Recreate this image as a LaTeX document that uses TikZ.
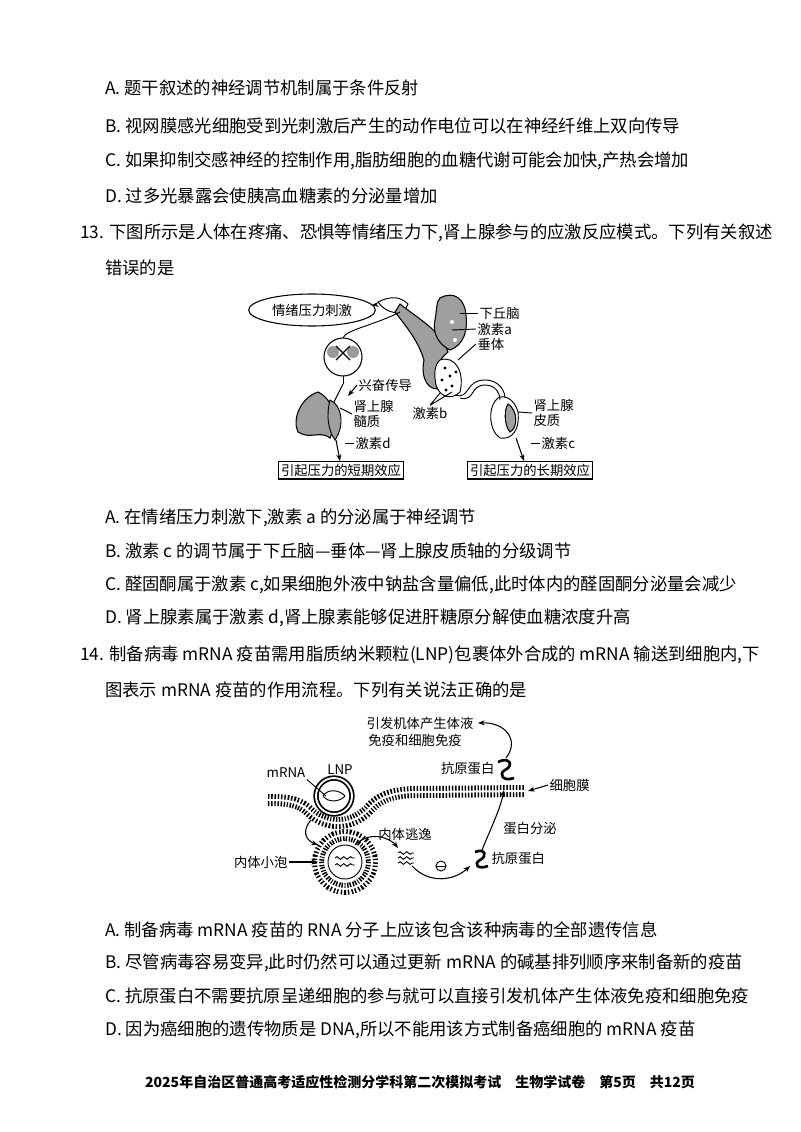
\documentclass[tikz,border=0pt]{standalone}
\usepackage{fontspec}
\setmainfont{Noto Sans CJK SC}
\usetikzlibrary{arrows.meta,shapes.geometric,decorations.pathmorphing}
\tikzset{
 txt/.style={anchor=west,inner sep=0pt,font=\fontsize{13}{15}\selectfont},
 lab/.style={inner sep=1pt,font=\fontsize{10}{11}\selectfont},
 effbox/.style={draw,line width=0.9pt,inner sep=2pt,font=\fontsize{10}{11}\selectfont},
 arr/.style={-{Stealth[length=5pt]},line width=0.8pt},
 ln/.style={line width=0.7pt},
 memb/.style={line width=9pt,dash pattern=on 1.1pt off 1.3pt},
 gland/.style={fill=gray!75,draw=black,line width=0.8pt}
}
\begin{document}
\begin{tikzpicture}[x=0.75pt,y=-0.75pt]
\useasboundingbox[fill=white] (0,0) rectangle (800,1132);
% text block 1
\node[txt] (l1) at (105,88) {A. 题干叙述的神经调节机制属于条件反射};
\node[txt] (l2) at (105,126) {B. 视网膜感光细胞受到光刺激后产生的动作电位可以在神经纤维上双向传导};
\node[txt] (l3) at (105,161) {C. 如果抑制交感神经的控制作用,脂肪细胞的血糖代谢可能会加快,产热会增加};
\node[txt] (l4) at (105,196) {D. 过多光暴露会使胰高血糖素的分泌量增加};
\node[txt] (q13) at (80,233) {13. 下图所示是人体在疼痛、恐惧等情绪压力下,肾上腺参与的应激反应模式。下列有关叙述};
\node[txt] (q13b) at (105,268) {错误的是};
% diagram 1
\node[draw,ellipse,line width=0.8pt,minimum width=95,minimum height=24,lab] (stim) at (312,310) {情绪压力刺激};
\draw[ln] (378,302) .. controls (390,296) and (400,296) .. (408,304) -- (404,312) .. controls (395,314) and (385,312) .. (378,302) -- cycle;
\coordinate (brainin) at (372,305);
\draw[arr] (stim) -- (brainin);
% brain
\path[gland] (400,304) .. controls (420,320) and (440,330) .. (448,352) .. controls (438,360) and (432,372) .. (440,388) .. controls (430,392) and (420,380) .. (424,360) .. controls (418,340) and (405,325) .. (395,312) -- cycle;
\path[gland] (440,298) .. controls (455,290) and (465,300) .. (466,315) .. controls (468,330) and (464,345) .. (450,350) .. controls (440,345) and (432,335) .. (435,320) .. controls (437,310) and (436,302) .. (440,298) -- cycle;
\draw[ln,fill=white] (440,360) .. controls (455,355) and (465,372) .. (460,392) .. controls (452,400) and (440,398) .. (436,385) .. controls (434,375) and (434,365) .. (440,360) -- cycle;
\foreach \p in {(445,368),(450,376),(442,380),(452,386),(446,390),(456,372)} \fill \p circle (1.6);
\fill[white] (452,322) circle (2);
\fill[white] (455,340) circle (2);
% spinal cord
\draw[line width=0.8pt] (343,357) circle (19);
\fill[gray!80] (333,352) circle (6);
\fill[gray!80] (353,352) circle (6);
\draw[line width=1pt] (336,346) -- (350,360) (350,346) -- (336,360);
\draw[ln] (343,376) -- (343,384);
% nerve
\draw[ln] (400,312) .. controls (375,325) and (345,330) .. (343,338);
\draw[ln] (343,384) -- (330,410);
% adrenal medulla
\path[gland] (318,392) .. controls (300,398) and (292,420) .. (298,432) .. controls (310,440) and (320,430) .. (330,438) .. controls (338,420) and (334,400) .. (318,392) -- cycle;
\draw[ln,fill=gray!75] (330,400) .. controls (342,405) and (345,425) .. (335,440) .. controls (328,430) and (326,415) .. (330,400) -- cycle;
% adrenal cortex
\draw[ln,fill=white] (498,398) .. controls (488,405) and (488,430) .. (500,438) .. controls (512,440) and (520,430) .. (518,412) .. controls (515,400) and (505,394) .. (498,398) -- cycle;
\path[gland] (508,404) .. controls (518,410) and (518,428) .. (510,432) .. controls (504,425) and (504,410) .. (508,404) -- cycle;
% blood vessel to cortex
\draw[ln] (455,395) .. controls (470,400) and (465,380) .. (485,380) .. controls (500,380) and (505,392) .. (505,398);
\draw[ln] (460,398) .. controls (475,402) and (470,385) .. (485,385) .. controls (497,385) and (500,395) .. (500,400);
% labels d1
\node[lab,anchor=west] (hyp) at (478,313) {下丘脑};
\node[lab,anchor=west] (ha) at (476,329) {激素a};
\node[lab,anchor=west] (pit) at (476,344) {垂体};
\draw[ln] (hyp.west) -- (460,313);
\draw[ln] (ha.west) -- (452,330);
\draw[ln] (pit.west) -- (458,360);
\node[lab,anchor=west] (xf) at (357,385) {兴奋传导};
\draw[arr] (xf.west) -- (348,396);
\node[lab,anchor=west,align=left] (med) at (352,414) {肾上腺\\髓质};
\draw[ln] (med.west) -- (340,408);
\node[lab] (hb) at (430,413) {激素b};
\draw[ln] (hb.north) -- (440,393) (hb.north) -- (452,392);
\node[lab,anchor=west,align=left] (cor) at (532,413) {肾上腺\\皮质};
\draw[ln] (cor.west) -- (518,412);
\node[lab,anchor=west] (hd) at (354,443) {激素d};
\draw[ln] (hd.west) -- (345,443);
\node[lab,anchor=west] (hc) at (540,443) {激素c};
\draw[ln] (hc.west) -- (531,443);
\node[effbox] (short) at (341,470) {引起压力的短期效应};
\node[effbox] (long) at (530,470) {引起压力的长期效应};
\coordinate (md) at (336,440);
\coordinate (cd) at (516,438);
\draw[arr] (md) -- (340,461);
\draw[arr] (cd) -- (524,461);
% text block 2
\node[txt] (a13) at (105,518) {A. 在情绪压力刺激下,激素 a 的分泌属于神经调节};
\node[txt] (b13) at (105,551) {B. 激素 c 的调节属于下丘脑—垂体—肾上腺皮质轴的分级调节};
\node[txt] (c13) at (105,585) {C. 醛固酮属于激素 c,如果细胞外液中钠盐含量偏低,此时体内的醛固酮分泌量会减少};
\node[txt] (d13) at (105,618) {D. 肾上腺素属于激素 d,肾上腺素能够促进肝糖原分解使血糖浓度升高};
\node[txt] (q14) at (80,655) {14. 制备病毒 mRNA 疫苗需用脂质纳米颗粒(LNP)包裹体外合成的 mRNA 输送到细胞内,下};
\node[txt] (q14b) at (105,690) {图表示 mRNA 疫苗的作用流程。下列有关说法正确的是};
% diagram 2
\draw[memb] (268,800) .. controls (290,800) and (300,802) .. (310,812) .. controls (325,826) and (350,828) .. (368,810) .. controls (380,796) and (395,792) .. (420,792) -- (525,791);
\draw[white,line width=1.5pt] (268,800) .. controls (290,800) and (300,802) .. (310,812) .. controls (325,826) and (350,828) .. (368,810) .. controls (380,796) and (395,792) .. (420,792) -- (525,791);
\draw[line width=4pt] (334,796) circle (18);
\draw[white,line width=1.4pt] (334,796) circle (18);
\draw[ln] (323,796) .. controls (328,788) and (340,790) .. (345,796) .. controls (340,802) and (328,803) .. (323,796);
\node[lab] (mrna) at (286,773) {mRNA};
\node[lab] (lnp) at (340,770) {LNP};
\draw[ln] (mrna.south east) -- (326,796);
\draw[memb] (345,862) circle (27);
\draw[white,line width=1.5pt] (345,862) circle (27);
\draw[ln] (345,862) circle (17);
\draw[ln,decorate,decoration={snake,amplitude=1pt,segment length=5pt}] (335,858) -- (355,858);
\draw[ln,decorate,decoration={snake,amplitude=1pt,segment length=5pt}] (335,865) -- (355,865);
\node[lab,anchor=east] (ves) at (289,862) {内体小泡};
\draw[arr] (ves.east) -- (318,862);
\draw[arr] (311,820) .. controls (302,830) and (305,840) .. (318,845);
\node[lab] (esc) at (405,834) {内体逃逸};
\draw[arr] (355,845) .. controls (370,830) and (390,838) .. (398,848);
\foreach \yy in {853,858,863} \draw[ln,decorate,decoration={snake,amplitude=1pt,segment length=5pt}] (398,\yy) -- (414,\yy);
\draw[arr] (412,866) .. controls (430,885) and (455,880) .. (470,866);
\draw[ln,fill=white] (441,866) circle (5);
\draw[ln] (436,866) -- (446,866);
% lower antigen squiggle
\draw[line width=2pt] (475,852) .. controls (485,848) and (488,856) .. (480,860) .. controls (473,864) and (478,870) .. (488,866);
\node[lab,anchor=west] (ag2) at (490,858) {抗原蛋白};
\node[lab] (sec) at (530,828) {蛋白分泌};
\draw[arr] (482,850) .. controls (490,830) and (500,810) .. (504,790);
% upper antigen squiggle
\draw[line width=2pt] (498,762) .. controls (510,756) and (514,766) .. (505,770) .. controls (498,774) and (503,782) .. (514,778);
\node[lab,anchor=east] (ag1) at (496,768) {抗原蛋白};
\node[lab] (eff1) at (420,723) {引发机体产生体液};
\node[lab] (eff2) at (415,740) {免疫和细胞免疫};
\draw[arr] (506,758) .. controls (520,740) and (505,722) .. (478,723);
\node[lab,anchor=west] (mem) at (548,785) {细胞膜};
\draw[arr] (mem.west) -- (528,791);
% text block 3
\node[txt] (a14) at (105,930) {A. 制备病毒 mRNA 疫苗的 RNA 分子上应该包含该种病毒的全部遗传信息};
\node[txt] (b14) at (105,963) {B. 尽管病毒容易变异,此时仍然可以通过更新 mRNA 的碱基排列顺序来制备新的疫苗};
\node[txt] (c14) at (105,996) {C. 抗原蛋白不需要抗原呈递细胞的参与就可以直接引发机体产生体液免疫和细胞免疫};
\node[txt] (d14) at (105,1030) {D. 因为癌细胞的遗传物质是 DNA,所以不能用该方式制备癌细胞的 mRNA 疫苗};
\node[inner sep=0pt,font=\fontsize{10.5}{12}\selectfont\bfseries] (foot) at (420,1082) {2025年自治区普通高考适应性检测分学科第二次模拟考试\quad 生物学试卷\quad 第5页\quad 共12页};
\end{tikzpicture}
\end{document}
